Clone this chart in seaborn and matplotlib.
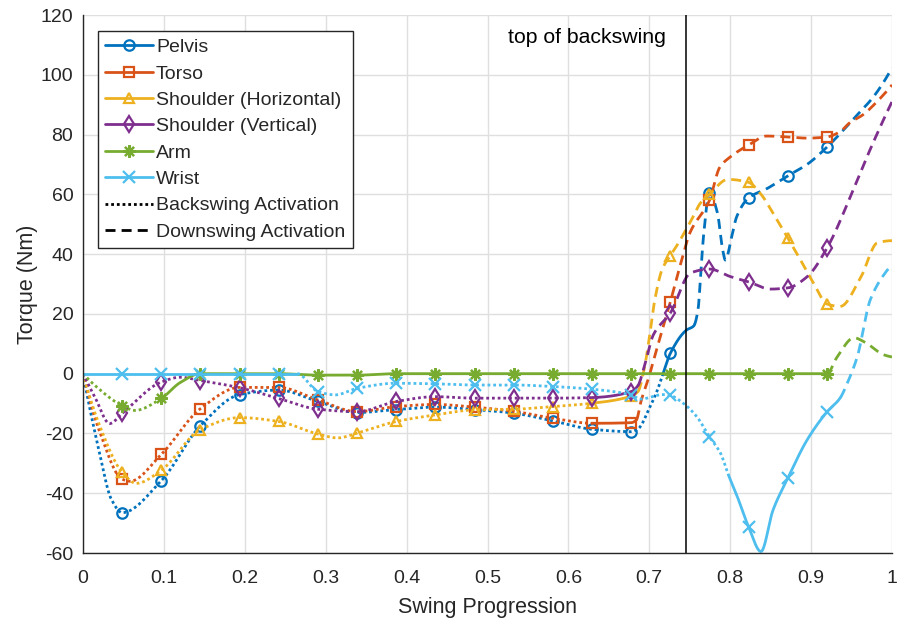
import numpy as np
import pandas as pd
import matplotlib
matplotlib.use("Agg")
import matplotlib.pyplot as plt
import seaborn as sns
from matplotlib.lines import Line2D

# ---------------------------------------------------------------- data
# swing progression of the sampled (marked) points
MARKER_X = [0.0484, 0.0968, 0.1452, 0.1936, 0.2420, 0.2904, 0.3388, 0.3872,
            0.4356, 0.4840, 0.5324, 0.5808, 0.6292, 0.6776, 0.7260, 0.7744,
            0.8228, 0.8712, 0.9196]

# torque at the marked samples (Nm)
PELVIS_MARKS = [-46.5, -35.8, -17.4, -7.0, -5.5, -9.3, -13.0, -12.0, -11.2, -12.0,
                -13.2, -15.8, -18.6, -19.4, 6.8, 60.5, 58.8, 66.2, 75.8]
TORSO_MARKS = [-35.3, -27.0, -11.7, -4.6, -4.6, -8.8, -12.7, -11.0, -10.3, -11.2,
               -12.6, -14.9, -16.6, -16.4, 24.0, 58.0, 76.5, 79.2, 79.2]
SH_H_MARKS = [-33.0, -32.3, -18.7, -14.7, -16.0, -20.2, -19.9, -16.0, -13.8, -12.1,
              -11.9, -11.0, -9.9, -7.5, 39.5, 60.0, 64.0, 45.4, 23.3]
SH_V_MARKS = [-13.3, -2.8, -2.3, -4.7, -8.3, -11.9, -12.7, -9.3, -7.7, -8.2,
              -8.2, -8.2, -8.0, -6.0, 20.3, 35.0, 30.7, 28.7, 42.0]
ARM_MARKS = [-10.7, -8.3, 0.0, 0.0, 0.0, -0.5, -0.5, 0.0, 0.0, 0.0,
             0.0, 0.0, 0.0, 0.0, 0.0, 0.0, 0.0, 0.0, 0.0]
WRIST_MARKS = [0.0, 0.0, 0.0, 0.0, 0.0, -6.0, -4.9, -3.2, -3.4, -3.8,
               -3.8, -4.3, -5.2, -7.1, -7.3, -21.2, -51.3, -35.0, -12.8]

# additional samples between the marked points
PELVIS_EXTRA_X = [0.0, 0.020, 0.035, 0.686, 0.701, 0.710, 0.717, 0.746, 0.755, 0.7605,
                  0.763, 0.767, 0.784, 0.791, 0.794, 0.802, 0.808, 0.846, 0.895, 0.957,
                  0.977, 1.0]
PELVIS_EXTRA_Y = [0.0, -26.0, -42.0, -18.5, -11.0, -5.5, 0.0, 14.6, 16.0, 22.0,
                  31.0, 46.0, 54.0, 41.0, 38.0, 46.0, 52.5, 62.0, 70.0, 86.6,
                  92.6, 102.3]
TORSO_EXTRA_X = [0.0, 0.020, 0.058, 0.684, 0.690, 0.699, 0.710, 0.740, 0.750, 0.787,
                 0.800, 0.845, 0.895, 0.936, 0.948, 0.964, 0.980, 1.0]
TORSO_EXTRA_Y = [0.0, -19.0, -36.0, -15.5, -9.0, -1.5, 9.0, 38.0, 47.0, 69.0,
                 72.5, 79.5, 78.8, 81.0, 84.0, 86.6, 90.6, 96.6]
SH_H_EXTRA_X = [0.0, 0.020, 0.066, 0.315, 0.686, 0.694, 0.700, 0.707, 0.716, 0.733,
                0.752, 0.763, 0.797, 0.837, 0.853, 0.887, 0.903, 0.936, 0.961, 0.982,
                1.0]
SH_H_EXTRA_Y = [0.0, -17.0, -36.7, -21.5, -6.0, 2.0, 12.0, 25.0, 35.0, 42.4,
                51.4, 57.0, 65.0, 60.4, 53.7, 38.0, 30.3, 22.5, 32.0, 43.8,
                44.5]
SH_V_EXTRA_X = [0.0, 0.015, 0.033, 0.120, 0.686, 0.695, 0.705, 0.751, 0.800, 0.850,
                0.895, 0.952, 0.973, 1.0]
SH_V_EXTRA_Y = [0.0, -8.0, -16.7, -1.2, -4.0, 3.6, 13.0, 33.7, 32.5, 28.3,
                32.4, 61.4, 75.0, 91.0]
ARM_EXTRA_X = [0.0, 0.015, 0.064, 0.120, 0.932, 0.953, 0.966, 0.990, 1.0]
ARM_EXTRA_Y = [0.0, -4.0, -12.3, -3.0, 5.5, 12.0, 10.6, 6.3, 5.6]
WRIST_EXTRA_X = [0.0, 0.265, 0.312, 0.689, 0.717, 0.742, 0.759, 0.788, 0.798, 0.809,
                 0.838, 0.853, 0.895, 0.936, 0.945, 0.957, 0.973, 0.994, 1.0]
WRIST_EXTRA_Y = [0.0, 0.0, -7.1, -8.5, -7.0, -9.9, -14.5, -26.6, -34.0, -41.3,
                 -59.5, -45.6, -22.2, -8.1, -3.0, 5.6, 24.6, 34.6, 36.5]

# activation phases along the swing: (start, end, phase)
PELVIS_PHASES = [(0.0, 0.717, "back"), (0.717, 0.756, "none"), (0.756, 1.0, "down")]
TORSO_PHASES = [(0.0, 0.6292, "back"), (0.6292, 0.684, "none"), (0.684, 1.0, "down")]
SH_H_PHASES = [(0.0, 0.6292, "back"), (0.6292, 0.686, "none"), (0.686, 1.0, "down")]
SH_V_PHASES = [(0.0, 0.6292, "back"), (0.6292, 0.686, "none"), (0.686, 1.0, "down")]
ARM_PHASES = [(0.0, 0.0968, "back"), (0.0968, 0.9196, "none"), (0.9196, 1.0, "down")]
WRIST_PHASES = [(0.0, 0.265, "none"), (0.265, 0.798, "back"), (0.798, 0.936, "none"),
                (0.936, 1.0, "down")]

TOP_OF_BACKSWING = 0.7456

SERIES = [
    ("Pelvis", "#0072BD", "o", PELVIS_MARKS, PELVIS_EXTRA_X, PELVIS_EXTRA_Y, PELVIS_PHASES),
    ("Torso", "#D95319", "s", TORSO_MARKS, TORSO_EXTRA_X, TORSO_EXTRA_Y, TORSO_PHASES),
    ("Shoulder (Horizontal)", "#EDB120", "^", SH_H_MARKS, SH_H_EXTRA_X, SH_H_EXTRA_Y, SH_H_PHASES),
    ("Shoulder (Vertical)", "#7E2F8E", "d", SH_V_MARKS, SH_V_EXTRA_X, SH_V_EXTRA_Y, SH_V_PHASES),
    ("Arm", "#77AC30", (8, 2, 0), ARM_MARKS, ARM_EXTRA_X, ARM_EXTRA_Y, ARM_PHASES),
    ("Wrist", "#4DBEEE", "x", WRIST_MARKS, WRIST_EXTRA_X, WRIST_EXTRA_Y, WRIST_PHASES),
]

MARKER_SIZES = {"o": 7.5, "s": 7.0, "^": 7.5, "d": 8.5, "x": 8.5}


def pchip(xk, yk, xq):
    """Shape-preserving piecewise cubic Hermite interpolation."""
    xk = np.asarray(xk, float)
    yk = np.asarray(yk, float)
    h = np.diff(xk)
    d = np.diff(yk) / h
    n = len(xk)
    m = np.zeros(n)
    for k in range(1, n - 1):
        if d[k - 1] * d[k] > 0:
            w1 = 2 * h[k] + h[k - 1]
            w2 = h[k] + 2 * h[k - 1]
            m[k] = (w1 + w2) / (w1 / d[k - 1] + w2 / d[k])

    def edge(h0, h1, d0, d1):
        e = ((2 * h0 + h1) * d0 - h0 * d1) / (h0 + h1)
        if np.sign(e) != np.sign(d0):
            e = 0.0
        elif np.sign(d0) != np.sign(d1) and abs(e) > abs(3 * d0):
            e = 3 * d0
        return e

    m[0] = edge(h[0], h[1], d[0], d[1])
    m[-1] = edge(h[-1], h[-2], d[-1], d[-2])
    xq = np.asarray(xq, float)
    i = np.clip(np.searchsorted(xk, xq, side="right") - 1, 0, n - 2)
    t = (xq - xk[i]) / h[i]
    h00 = 2 * t**3 - 3 * t**2 + 1
    h10 = t**3 - 2 * t**2 + t
    h01 = -2 * t**3 + 3 * t**2
    h11 = t**3 - t**2
    return h00 * yk[i] + h10 * h[i] * m[i] + h01 * yk[i + 1] + h11 * h[i] * m[i + 1]


# ---------------------------------------------------------------- style
sns.set_theme(style="white")
plt.rcParams["font.family"] = ["Liberation Sans", "DejaVu Sans"]
plt.rcParams["axes.unicode_minus"] = False
INK = "#262626"

DASHES = {"back": (1.0, 1.05), "down": (3.6, 2.2), "none": ""}

fig = plt.figure(figsize=(8.98, 6.24), dpi=100)
ax = fig.add_axes([83 / 898, 71 / 624, 809 / 898, 538 / 624])

for name, color, marker, marks, ex, ey, phases in SERIES:
    kx = np.array(MARKER_X + ex)
    ky = np.array(marks + ey)
    order = np.argsort(kx)
    kx, ky = kx[order], ky[order]
    frames = []
    for j, (a, b, phase) in enumerate(phases):
        xs = np.linspace(a, b, 400)
        frames.append(pd.DataFrame({"x": xs, "y": pchip(kx, ky, xs),
                                    "phase": phase, "seg": j}))
    df = pd.concat(frames, ignore_index=True)
    sns.lineplot(data=df, x="x", y="y", style="phase", units="seg", estimator=None,
                 dashes={p: DASHES[p] for p in df["phase"].unique()},
                 color=color, linewidth=2.0, legend=False, ax=ax, sort=False)
    ms = MARKER_SIZES.get(marker, 9.0)
    ax.plot(MARKER_X, marks, linestyle="none", marker=marker, markersize=ms,
            markerfacecolor="none", markeredgecolor=color, markeredgewidth=1.6)

ax.axvline(TOP_OF_BACKSWING, color="black", linewidth=1.1)
ax.text(TOP_OF_BACKSWING - 0.025, 112.4, "top of backswing", ha="right", va="center",
        fontsize=15.3, color="black")

ax.set_xlim(0, 1)
ax.set_ylim(-60, 120)
ax.set_xticks(np.arange(0, 1.01, 0.1))
ax.set_xticklabels(["0", "0.1", "0.2", "0.3", "0.4", "0.5", "0.6", "0.7", "0.8", "0.9", "1"])
ax.set_yticks(np.arange(-60, 121, 20))
ax.grid(True, color="#dfdfdf", linewidth=1.0)
ax.set_axisbelow(True)
for side in ("top", "right"):
    ax.spines[side].set_visible(False)
for side in ("left", "bottom"):
    ax.spines[side].set_color(INK)
    ax.spines[side].set_linewidth(1.0)
ax.tick_params(direction="in", length=6, width=1.0, colors=INK, labelsize=14,
               labelcolor=INK)
ax.tick_params(axis="x", pad=12.5)
ax.tick_params(axis="y", pad=7)
ax.set_xlabel("Swing Progression", fontsize=15.5, color=INK, labelpad=7)
ax.set_ylabel("Torque (Nm)", fontsize=15.5, color=INK, labelpad=2)

handles = []
for name, color, marker, *_ in SERIES:
    ms = MARKER_SIZES.get(marker, 9.0)
    handles.append(Line2D([], [], color=color, linewidth=2.0, marker=marker,
                          markersize=ms, markerfacecolor="none",
                          markeredgecolor=color, markeredgewidth=1.6, label=name))
handles.append(Line2D([], [], color="black", linewidth=2.0, dashes=DASHES["back"],
                      label="Backswing Activation"))
handles.append(Line2D([], [], color="black", linewidth=2.0, dashes=DASHES["down"],
                      label="Downswing Activation"))
leg = ax.legend(handles=handles, loc="upper left", bbox_to_anchor=(0.0185, 0.970),
                borderaxespad=0, fontsize=14.0, handlelength=2.45, handletextpad=0.15,
                labelspacing=0.45, borderpad=0.38, frameon=True, fancybox=False,
                framealpha=1.0)
leg.get_frame().set_edgecolor(INK)
leg.get_frame().set_linewidth(1.0)

fig.savefig("out.png", dpi=100)
